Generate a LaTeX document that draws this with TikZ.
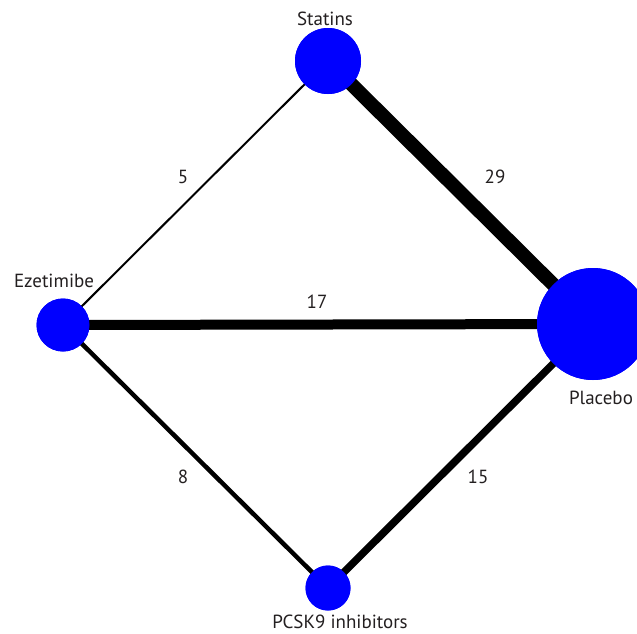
\documentclass[tikz,border=0pt]{standalone}
\usepackage{fontspec}
\setmainfont{PT Sans}
\definecolor{nodeblue}{RGB}{0,0,255}
\definecolor{txt}{RGB}{35,31,32}
\begin{document}
\begin{tikzpicture}[x=1pt,y=-1pt,
  drug/.style={circle,fill=nodeblue,draw=none,inner sep=0pt},
  lab/.style={font=\fontsize{19}{22}\selectfont,text=txt,inner sep=0pt},
  num/.style={font=\fontsize{19}{22}\selectfont,text=txt,inner sep=0pt},
  edge/.style={draw=black,line cap=butt}]
\useasboundingbox (0,0) rectangle (637,633);
\node[drug,minimum size=66pt] (S) at (328,61) {};
\node[drug,minimum size=112pt] (P) at (593,324) {};
\node[drug,minimum size=53pt] (E) at (63,325) {};
\node[drug,minimum size=45pt] (K) at (328,588) {};
\draw[edge,line width=2pt] (S.center) -- (E.center);
\draw[edge,line width=14pt] (S.center) -- (P.center);
\draw[edge,line width=10pt] (E.center) -- (P.center);
\draw[edge,line width=4.5pt] (E.center) -- (K.center);
\draw[edge,line width=7.5pt] (K.center) -- (P.center);
\node[drug,minimum size=66pt] at (S) {};
\node[drug,minimum size=112pt] at (P) {};
\node[drug,minimum size=53pt] at (E) {};
\node[drug,minimum size=45pt] at (K) {};
\node[lab] (lS) at (325,19) {Statins};
\node[lab] (lP) at (601,398) {Placebo};
\node[lab] (lE) at (54,281) {Ezetimibe};
\node[lab] (lK) at (340,622) {PCSK9 inhibitors};
\node[num] (n5) at (183,177) {5};
\node[num] (n29) at (495,177) {29};
\node[num] (n17) at (317,302) {17};
\node[num] (n8) at (183,477) {8};
\node[num] (n15) at (478,477) {15};
\end{tikzpicture}
\end{document}
